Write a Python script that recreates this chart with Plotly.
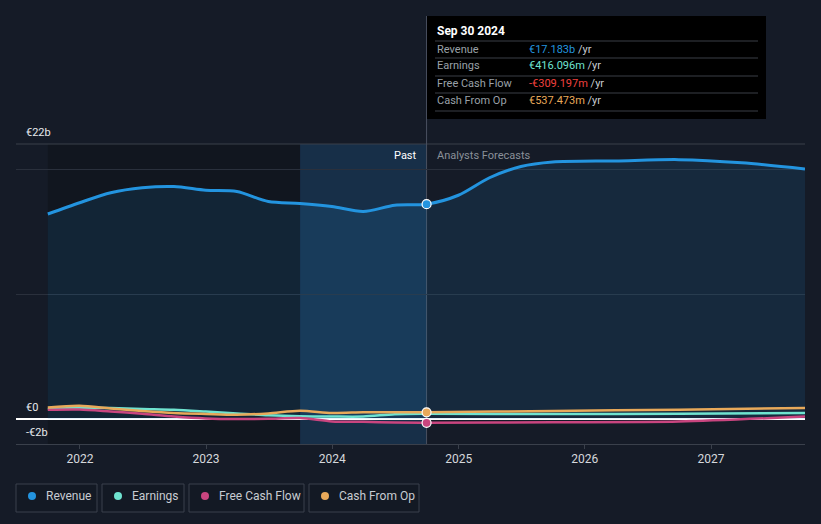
import plotly.graph_objects as go

# ---------------- data ----------------
past_dates = ["2021-09-30", "2021-12-31", "2022-03-31", "2022-06-30", "2022-09-30",
              "2022-12-31", "2023-03-31", "2023-06-30", "2023-09-30", "2023-12-31",
              "2024-03-31", "2024-06-30", "2024-09-30"]
revenue_past = [16.4, 17.3, 18.1, 18.5, 18.6, 18.3, 18.2, 17.4, 17.25, 17.0, 16.6, 17.1, 17.183]
earnings_past = [0.8, 0.9, 0.88, 0.8, 0.74, 0.6, 0.45, 0.3, 0.22, 0.2, 0.2, 0.38, 0.416]
fcf_past = [0.74, 0.76, 0.6, 0.42, 0.2, 0.05, 0.0, 0.02, 0.08, -0.19, -0.22, -0.28, -0.309]
cfo_past = [0.93, 1.06, 0.85, 0.65, 0.48, 0.4, 0.34, 0.45, 0.66, 0.48, 0.54, 0.55, 0.537]

rev_fc_dates = ["2024-09-30", "2024-12-31", "2025-03-31", "2025-06-30", "2025-09-30",
                "2026-03-31", "2026-09-30", "2027-03-31", "2027-09-30"]
revenue_fc = [17.183, 17.9, 19.3, 20.2, 20.56, 20.65, 20.75, 20.5, 20.0]

fc_dates = ["2024-09-30", "2025-09-30", "2026-09-30", "2027-09-30"]
earnings_fc = [0.416, 0.40, 0.42, 0.48]
fcf_fc = [-0.309, -0.26, -0.2, 0.2]
cfo_fc = [0.537, 0.65, 0.75, 0.88]

y_labels = {"€22b": 22, "€0": 0, "-€2b": -2}
year_ticks = ["2022-01-01", "2023-01-01", "2024-01-01", "2025-01-01", "2026-01-01", "2027-01-01"]
year_text = ["2022", "2023", "2024", "2025", "2026", "2027"]

tooltip_date = "Sep 30 2024"
tooltip_rows = [("Revenue", "€17.183b", "#2394df"),
                ("Earnings", "€416.096m", "#6fe3d0"),
                ("Free Cash Flow", "-€309.197m", "#f0413e"),
                ("Cash From Op", "€537.473m", "#e8a95a")]

series = [("Revenue", "#2394df"), ("Earnings", "#6fe3d0"),
          ("Free Cash Flow", "#c9457f"), ("Cash From Op", "#e8a95a")]

W, H = 821, 524
BG = "#151b27"


def px(x):
    return x / W


def py(y):
    return 1 - y / H


fig = go.Figure()

# Revenue (past + forecast)
fig.add_trace(go.Scatter(x=past_dates[:-1] + rev_fc_dates, y=revenue_past[:-1] + revenue_fc,
                         mode="lines", line=dict(color="#2394df", width=3, shape="spline", smoothing=0.8),
                         fill="tozeroy", fillcolor="rgba(35,148,223,0.12)", hoverinfo="skip"))

small = [(earnings_past, earnings_fc, "#6fe3d0"),
         (fcf_past, fcf_fc, "#c9457f"),
         (cfo_past, cfo_fc, "#e8a95a")]
for vp, vf, col in small:
    fig.add_trace(go.Scatter(x=past_dates[:-1] + fc_dates, y=vp[:-1] + vf, mode="lines",
                             line=dict(color=col, width=2.5, shape="spline", smoothing=0.8),
                             hoverinfo="skip"))

# markers at the highlighted date
for val, col in [(revenue_past[-1], "#2394df"), (fcf_past[-1], "#c9457f"), (cfo_past[-1], "#e8a95a")]:
    fig.add_trace(go.Scatter(x=[past_dates[-1]], y=[val], mode="markers",
                             marker=dict(color=col, size=9, line=dict(color="white", width=1.2)),
                             hoverinfo="skip"))

shapes = []
# darker past region
shapes.append(dict(type="rect", xref="x", yref="paper", x0=past_dates[0], x1="2023-09-30",
                   y0=py(444), y1=py(144), fillcolor="rgba(0,0,0,0.18)", line_width=0, layer="below"))
# highlighted last year
shapes.append(dict(type="rect", xref="x", yref="paper", x0="2023-09-30", x1=past_dates[-1],
                   y0=py(444), y1=py(144), fillcolor="rgba(30,120,190,0.22)", line_width=0, layer="below"))
# top border line
shapes.append(dict(type="line", xref="paper", yref="paper", x0=px(16), x1=px(805),
                   y0=py(144), y1=py(144), line=dict(color="#3a404b", width=1), layer="below"))
# vertical cursor line
shapes.append(dict(type="line", xref="x", yref="paper", x0=past_dates[-1], x1=past_dates[-1],
                   y0=py(444), y1=py(16), line=dict(color="#4a5160", width=1), layer="below"))
# tooltip box
shapes.append(dict(type="rect", xref="paper", yref="paper", x0=px(427), x1=px(766),
                   y0=py(119), y1=py(16), fillcolor="#000000", line_width=0, layer="above"))
for ly in [41, 58, 76, 93, 111]:
    shapes.append(dict(type="line", xref="paper", yref="paper", x0=px(435), x1=px(758),
                       y0=py(ly), y1=py(ly), line=dict(color="#3a3f47", width=1), layer="above"))

annotations = []
annotations.append(dict(xref="paper", yref="paper", x=px(435), y=py(31), xanchor="left", yanchor="middle",
                        text="<b>" + tooltip_date + "</b>", showarrow=False,
                        font=dict(color="white", size=12)))
for (lab, val, col), ry in zip(tooltip_rows, [49, 66, 84, 101]):
    annotations.append(dict(xref="paper", yref="paper", x=px(435), y=py(ry), xanchor="left", yanchor="middle",
                            text=lab, showarrow=False, font=dict(color="#9aa0a8", size=11)))
    annotations.append(dict(xref="paper", yref="paper", x=px(527), y=py(ry), xanchor="left", yanchor="middle",
                            text=f"<span style='color:{col}'>{val}</span> /yr", showarrow=False,
                            font=dict(color="#c8ccd2", size=11)))

# Past / forecast labels
annotations.append(dict(xref="paper", yref="paper", x=px(419), y=py(156), xanchor="right", yanchor="middle",
                        text="Past", showarrow=False, font=dict(color="white", size=11)))
annotations.append(dict(xref="paper", yref="paper", x=px(435), y=py(156), xanchor="left", yanchor="middle",
                        text="Analysts Forecasts", showarrow=False, font=dict(color="#8a9099", size=11)))

# y labels above lines
for txt, yv in y_labels.items():
    ypix = 419 - yv * 12.5
    annotations.append(dict(xref="paper", yref="paper", x=px(24), y=py(ypix - 12), xanchor="left",
                            yanchor="middle", text=txt, showarrow=False,
                            font=dict(color="#e6e8eb", size=11)))

# legend
boxes = [(16, 97), (102, 184), (189, 304), (309, 419)]
for (name, col), (bx0, bx1) in zip(series, boxes):
    shapes.append(dict(type="rect", xref="paper", yref="paper", x0=px(bx0), x1=px(bx1),
                       y0=py(512), y1=py(484), fillcolor="#131924",
                       line=dict(color="#3a404c", width=1), layer="above"))
    shapes.append(dict(type="circle", xref="paper", yref="paper", x0=px(bx0 + 12), x1=px(bx0 + 20),
                       y0=py(500), y1=py(492), fillcolor=col, line_width=0, layer="above"))
    annotations.append(dict(xref="paper", yref="paper", x=px(bx0 + 28), y=py(496), xanchor="left",
                            yanchor="middle", text=name, showarrow=False,
                            font=dict(color="#c8ccd2", size=12)))

fig.update_layout(
    width=W, height=H,
    margin=dict(l=0, r=0, t=0, b=0),
    paper_bgcolor=BG, plot_bgcolor=BG,
    showlegend=False,
    font=dict(family="Roboto", color="#c8ccd2"),
    shapes=shapes, annotations=annotations,
    xaxis=dict(domain=[px(16), px(805)], range=["2021-06-30", "2027-09-30"], type="date",
               tickvals=year_ticks, ticktext=year_text, showgrid=False, zeroline=False,
               showline=True, linecolor="#3a404b", linewidth=1,
               ticks="outside", ticklen=4, tickcolor="#3a404b",
               tickfont=dict(color="#d5d8dc", size=12)),
    yaxis=dict(domain=[py(444), py(144)], range=[-2, 22], tickvals=[10, 20],
               showticklabels=False, gridcolor="#2a303c", gridwidth=1,
               zeroline=True, zerolinecolor="#ffffff", zerolinewidth=1.5),
    hovermode=False,
)

fig.write_html("out.html", config={"displayModeBar": False},
               post_script="document.body.style.margin='0';document.body.style.padding='0';"
                           "document.body.style.background='" + BG + "';")
